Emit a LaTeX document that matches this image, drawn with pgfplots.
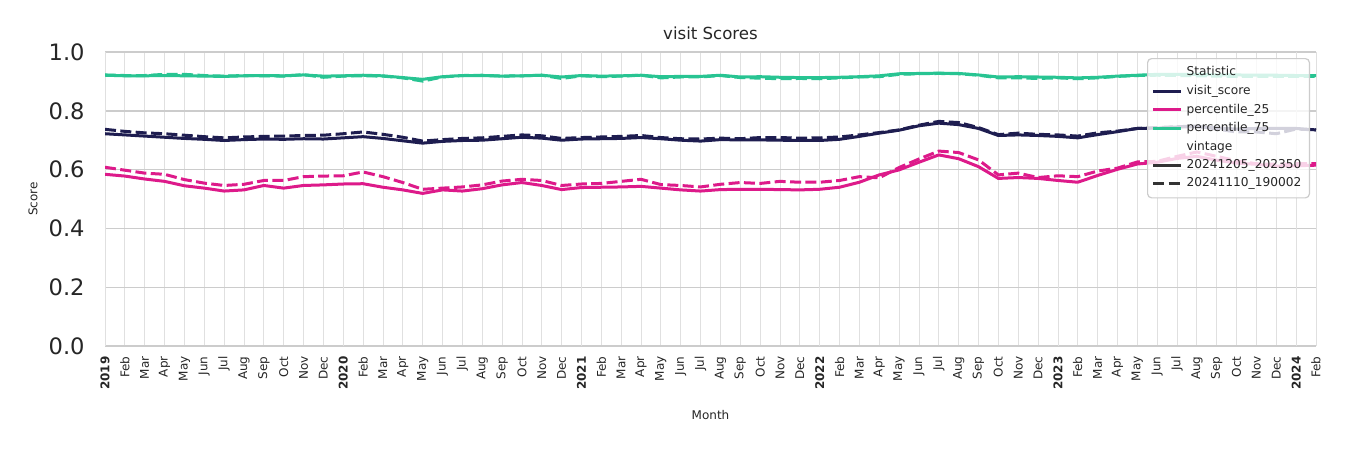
\documentclass[border=0pt]{standalone}
\usepackage{pgfplots}
\pgfplotsset{compat=1.18}
\usepackage{pgfplotstable}
\usepackage{fontspec}
\setmainfont{DejaVu Sans}

\definecolor{navy}{RGB}{30,29,80}
\definecolor{pink}{RGB}{221,26,138}
\definecolor{teal}{RGB}{40,196,146}
\definecolor{vint}{RGB}{51,51,51}
\definecolor{hgrid}{RGB}{204,204,204}
\definecolor{vgrid}{RGB}{224,224,224}
\definecolor{ygrid}{RGB}{68,68,68}

% m: month index from Jan 2019; new = 20241205_202350, old = 20241110_190002
\pgfplotstableread{
m  vsnew  p25new p75new vsold  p25old p75old
0  0.722  0.584  0.921  0.737  0.608  0.922
1  0.718  0.578  0.919  0.730  0.598  0.920
2  0.714  0.568  0.919  0.725  0.588  0.920
3  0.710  0.560  0.920  0.722  0.584  0.924
4  0.706  0.545  0.919  0.717  0.566  0.924
5  0.703  0.537  0.918  0.712  0.554  0.920
6  0.699  0.527  0.917  0.708  0.546  0.918
7  0.702  0.531  0.919  0.711  0.550  0.920
8  0.704  0.546  0.920  0.713  0.563  0.919
9  0.703  0.537  0.919  0.714  0.563  0.918
10 0.705  0.546  0.922  0.716  0.576  0.923
11 0.704  0.548  0.918  0.717  0.578  0.914
12 0.708  0.551  0.919  0.722  0.579  0.918
13 0.712  0.552  0.921  0.728  0.592  0.919
14 0.706  0.540  0.919  0.720  0.576  0.918
15 0.698  0.531  0.913  0.710  0.556  0.912
16 0.690  0.519  0.907  0.697  0.533  0.901
17 0.696  0.531  0.916  0.702  0.537  0.915
18 0.699  0.527  0.920  0.706  0.541  0.920
19 0.700  0.535  0.920  0.708  0.548  0.921
20 0.705  0.548  0.918  0.713  0.561  0.918
21 0.710  0.556  0.919  0.718  0.567  0.919
22 0.707  0.546  0.921  0.715  0.563  0.921
23 0.700  0.532  0.915  0.706  0.546  0.910
24 0.704  0.539  0.920  0.709  0.551  0.919
25 0.705  0.540  0.918  0.711  0.553  0.916
26 0.706  0.541  0.919  0.713  0.560  0.918
27 0.709  0.543  0.921  0.716  0.567  0.921
28 0.705  0.537  0.916  0.709  0.549  0.912
29 0.700  0.531  0.917  0.705  0.546  0.915
30 0.697  0.527  0.917  0.704  0.541  0.915
31 0.702  0.532  0.921  0.707  0.550  0.920
32 0.701  0.533  0.915  0.705  0.556  0.913
33 0.701  0.533  0.916  0.709  0.553  0.911
34 0.700  0.532  0.914  0.709  0.560  0.909
35 0.699  0.531  0.913  0.707  0.557  0.910
36 0.699  0.533  0.913  0.708  0.557  0.909
37 0.703  0.540  0.914  0.711  0.563  0.912
38 0.713  0.557  0.916  0.718  0.576  0.915
39 0.724  0.582  0.919  0.726  0.572  0.916
40 0.734  0.599  0.926  0.735  0.607  0.924
41 0.749  0.625  0.927  0.751  0.636  0.926
42 0.758  0.650  0.928  0.764  0.663  0.927
43 0.753  0.637  0.927  0.760  0.658  0.926
44 0.740  0.610  0.922  0.743  0.633  0.921
45 0.716  0.570  0.915  0.719  0.582  0.912
46 0.718  0.573  0.916  0.724  0.588  0.912
47 0.716  0.570  0.915  0.720  0.573  0.910
48 0.713  0.563  0.914  0.718  0.579  0.912
49 0.708  0.557  0.912  0.714  0.576  0.909
50 0.719  0.580  0.914  0.725  0.595  0.912
51 0.729  0.601  0.918  0.731  0.605  0.917
52 0.740  0.619  0.921  0.740  0.626  0.920
53 0.741  0.625  0.924  0.743  0.628  0.921
54 0.745  0.638  0.924  0.746  0.645  0.920
55 0.745  0.645  0.924  0.748  0.660  0.919
56 0.742  0.632  0.922  0.738  0.645  0.918
57 0.738  0.622  0.922  0.728  0.630  0.917
58 0.740  0.618  0.921  0.728  0.620  0.917
59 0.740  0.612  0.921  0.722  0.618  0.917
60 0.740  0.613  0.920  0.738  0.620  0.917
61 0.735  0.615  0.920  0.735  0.620  0.917
}\scores

\begin{document}
\begin{tikzpicture}
\fill[white] (0,0) rectangle (675pt,225pt);
\useasboundingbox (0,0) rectangle (675pt,225pt);
\begin{axis}[
    at={(52.5pt,52pt)}, anchor=south west,
    scale only axis, width=605.5pt, height=147pt,
    xmin=0, xmax=61, ymin=0, ymax=1,
    axis x line*=bottom, axis y line*=left,
    x axis line style={draw=hgrid, line width=1.4pt, -},
    y axis line style={draw=none},
    major tick length=0pt,
    ytick={0,0.2,...,1.0},
    ymajorgrids, xmajorgrids,
    y grid style={hgrid, line width=0.7pt},
    x grid style={vgrid, line width=0.4pt},
    xtick={0,...,61},
    xticklabels={\textbf{2019},Feb,Mar,Apr,May,Jun,Jul,Aug,Sep,Oct,Nov,Dec,
                 \textbf{2020},Feb,Mar,Apr,May,Jun,Jul,Aug,Sep,Oct,Nov,Dec,
                 \textbf{2021},Feb,Mar,Apr,May,Jun,Jul,Aug,Sep,Oct,Nov,Dec,
                 \textbf{2022},Feb,Mar,Apr,May,Jun,Jul,Aug,Sep,Oct,Nov,Dec,
                 \textbf{2023},Feb,Mar,Apr,May,Jun,Jul,Aug,Sep,Oct,Nov,Dec,
                 \textbf{2024},Feb},
    extra x ticks={0,12,24,36,48,60},
    extra x tick labels={},
    extra x tick style={grid style={ygrid, line width=0.6pt}},
    xticklabel style={rotate=90, anchor=east, inner sep=0pt, font=\fontsize{6}{7}\selectfont, text=black!85},
    xticklabel shift=5pt,
    yticklabel style={inner sep=0pt, font=\fontsize{11.3}{13}\selectfont, text=black!85,
        /pgf/number format/.cd, fixed, fixed zerofill, precision=1, assume math mode=true},
    yticklabel shift=10pt,
    title={visit Scores},
    title style={at={(0.5,1)}, anchor=center, yshift=3.5pt, font=\fontsize{8.3}{10}\selectfont, text=black!85},
    xlabel={Month},
    xlabel style={at={(0.5,0)}, anchor=center, yshift=-34.5pt, font=\fontsize{6}{7}\selectfont, text=black!85},
    ylabel={Score},
    ylabel style={at={(axis description cs:-0.0595,0.5)}, anchor=center, font=\fontsize{6}{7}\selectfont, text=black!85},
    legend image code/.code={\draw[#1, line width=1.5pt] (0pt,0pt) -- (14pt,0pt);},
    legend style={at={(1,1)}, anchor=north east, xshift=-3pt, yshift=-3pt,
        draw=hgrid, line width=0.6pt, rounded corners=2pt,
        fill=white, fill opacity=0.8, draw opacity=1, text opacity=1,
        font=\fontsize{6.1}{7}\selectfont, text=black!85,
        row sep=-0.85pt, inner sep=2pt},
    legend cell align=left,
    every axis plot/.append style={line width=1.5pt, line join=round},
]
\addplot[navy, forget plot] table[x=m, y=vsnew] {\scores};
\addplot[navy, forget plot, dash pattern=on 5.5pt off 2.2pt] table[x=m, y=vsold] {\scores};
\addplot[pink, forget plot] table[x=m, y=p25new] {\scores};
\addplot[pink, forget plot, dash pattern=on 5.5pt off 2.2pt] table[x=m, y=p25old] {\scores};
\addplot[teal, forget plot] table[x=m, y=p75new] {\scores};
\addplot[teal, forget plot, dash pattern=on 5.5pt off 2.2pt] table[x=m, y=p75old] {\scores};

\addlegendimage{draw opacity=0}
\addlegendentry{Statistic}
\addlegendimage{navy}
\addlegendentry{visit\_score}
\addlegendimage{pink}
\addlegendentry{percentile\_25}
\addlegendimage{teal}
\addlegendentry{percentile\_75}
\addlegendimage{draw opacity=0}
\addlegendentry{vintage}
\addlegendimage{vint}
\addlegendentry{20241205\_202350}
\addlegendimage{vint, dash pattern=on 5.5pt off 2.2pt}
\addlegendentry{20241110\_190002}
\end{axis}
\end{tikzpicture}
\end{document}
